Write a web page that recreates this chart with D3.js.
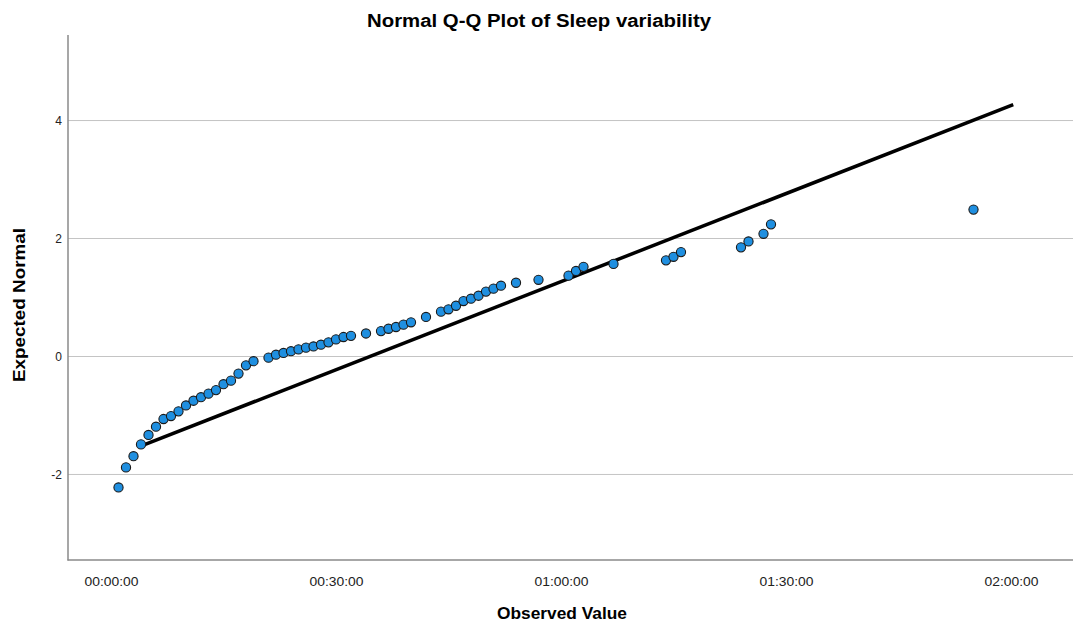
<!DOCTYPE html>
<html>
<head>
<meta charset="utf-8">
<script src="https://cdn.jsdelivr.net/npm/d3@7"></script>
<style>
  html, body { margin: 0; padding: 0; background: #fff; }
  svg { display: block; font-family: "Liberation Sans", Arial, sans-serif; }
</style>
</head>
<body>
<svg id="chart" width="1073" height="630"></svg>
<script>
// Observed values (minutes) of the distinct sleep-variability scores
const observedMinutes = [
  1, 2, 3, 4, 5, 6, 7, 8, 9, 10, 11, 12, 13, 14, 15, 16, 17, 18, 19,
  21, 22, 23, 24, 25, 26, 27, 28, 29, 30, 31, 32, 34, 36, 37, 38, 39, 40,
  42, 44, 45, 46, 47, 48, 49, 50, 51, 52, 54, 57, 61, 62, 63, 67,
  74, 75, 76, 84, 85, 87, 88, 115
];
// Expected normal quantile for each observed value
const expectedNormal = [
  -2.22, -1.88, -1.69, -1.49, -1.33, -1.19, -1.06, -1.01, -0.93, -0.83, -0.75, -0.69, -0.63, -0.57, -0.47, -0.41, -0.29, -0.15, -0.08,
  -0.02, 0.03, 0.06, 0.09, 0.12, 0.15, 0.17, 0.20, 0.24, 0.29, 0.33, 0.35, 0.39, 0.43, 0.47, 0.50, 0.54, 0.58,
  0.67, 0.76, 0.80, 0.86, 0.94, 0.98, 1.03, 1.10, 1.15, 1.20, 1.25, 1.30, 1.37, 1.45, 1.52, 1.57,
  1.63, 1.69, 1.77, 1.85, 1.95, 2.08, 2.24, 2.49
];
// Reference line of the fitted normal distribution (minutes)
const fitMean = 34.5;
const fitSd = 20.1;
const lineRange = [4.3, 120.3];

const xTickValues = [0, 30, 60, 90, 120];
const yTickValues = [-2, 0, 2, 4];

const titleText = "Normal Q-Q Plot of Sleep variability";
const xTitle = "Observed Value";
const yTitle = "Expected Normal";

const svg = d3.select("#chart");
const plot = { left: 68, right: 1073, top: 35, bottom: 560 };

const x = d3.scaleLinear().domain([0, 120]).range([111, 1011]);
const y = d3.scaleLinear().domain([-3.45, 5.45]).range([plot.bottom, plot.top]);

const fmtTime = m => {
  const h = Math.floor(m / 60), mm = m % 60;
  return String(h).padStart(2, "0") + ":" + String(mm).padStart(2, "0") + ":00";
};

// horizontal grid lines
svg.append("g").selectAll("line").data(yTickValues).join("line")
  .attr("x1", plot.left).attr("x2", plot.right)
  .attr("y1", d => y(d)).attr("y2", d => y(d))
  .attr("stroke", "#c4c4c4").attr("stroke-width", 1);

// y axis
const yAxis = svg.append("g").attr("transform", `translate(${plot.left},0)`)
  .call(d3.axisLeft(y).tickValues(yTickValues).tickSize(0).tickPadding(6).tickFormat(d => String(d)));
yAxis.select(".domain").remove();
yAxis.selectAll("text").attr("font-size", 12).attr("fill", "#222")
  .attr("font-family", "'Liberation Sans', Arial, sans-serif");

// x axis
const xAxis = svg.append("g").attr("transform", `translate(0,${plot.bottom})`)
  .call(d3.axisBottom(x).tickValues(xTickValues).tickSize(0).tickPadding(17).tickFormat(fmtTime));
xAxis.select(".domain").remove();
xAxis.selectAll("text").attr("font-size", 12.5).attr("fill", "#222")
  .attr("font-family", "'Liberation Sans', Arial, sans-serif")
  .attr("textLength", 54).attr("lengthAdjust", "spacingAndGlyphs");

// axis frame lines
svg.append("line").attr("x1", plot.left).attr("x2", plot.left).attr("y1", plot.top).attr("y2", plot.bottom + 0.5)
  .attr("stroke", "#8a8a8a").attr("stroke-width", 1.5);
svg.append("line").attr("x1", plot.left - 0.5).attr("x2", plot.right).attr("y1", plot.bottom).attr("y2", plot.bottom)
  .attr("stroke", "#8a8a8a").attr("stroke-width", 1.5);

// reference line
svg.append("line")
  .attr("x1", x(lineRange[0])).attr("y1", y((lineRange[0] - fitMean) / fitSd))
  .attr("x2", x(lineRange[1])).attr("y2", y((lineRange[1] - fitMean) / fitSd))
  .attr("stroke", "#000").attr("stroke-width", 3.5);

// points
svg.append("g").selectAll("circle").data(observedMinutes).join("circle")
  .attr("cx", d => x(d))
  .attr("cy", (d, i) => y(expectedNormal[i]))
  .attr("r", 4.6)
  .attr("fill", "#1f8fe0")
  .attr("stroke", "#1a1a1a").attr("stroke-width", 1.1);

// titles
svg.append("text").attr("x", 539).attr("y", 27).attr("text-anchor", "middle")
  .attr("font-size", 18).attr("font-weight", "bold").attr("fill", "#000")
  .attr("textLength", 344).attr("lengthAdjust", "spacingAndGlyphs").text(titleText);
svg.append("text").attr("x", 562).attr("y", 619).attr("text-anchor", "middle")
  .attr("font-size", 17).attr("font-weight", "bold").attr("fill", "#000")
  .attr("textLength", 130).attr("lengthAdjust", "spacingAndGlyphs").text(xTitle);
svg.append("text").attr("transform", "translate(25,305) rotate(-90)").attr("text-anchor", "middle")
  .attr("font-size", 17).attr("font-weight", "bold").attr("fill", "#000")
  .attr("textLength", 154).attr("lengthAdjust", "spacingAndGlyphs").text(yTitle);
</script>
</body>
</html>
